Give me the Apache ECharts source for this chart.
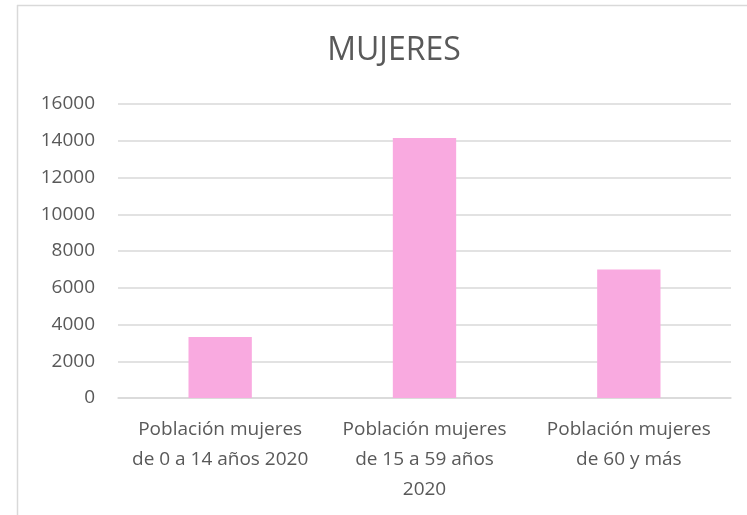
<!DOCTYPE html>
<html>
<head>
<meta charset="utf-8">
<script src="https://cdn.jsdelivr.net/npm/echarts@6/dist/echarts.min.js"></script>
<style>
html,body{margin:0;padding:0;background:#fff;}
#c{width:747px;height:515px;}
</style>
</head>
<body>
<div id="c"></div>
<script>
const title = "MUJERES";
const categories = [
  "Población mujeres\nde 0 a 14 años 2020",
  "Población mujeres\nde 15 a 59 años\n2020",
  "Población mujeres\nde 60 y más"
];
const values = [3320, 14150, 7000];
const yTicks = [0, 2000, 4000, 6000, 8000, 10000, 12000, 14000, 16000];

const chart = echarts.init(document.getElementById('c'), null, {renderer: 'canvas'});
const font = "Open Sans";
chart.setOption({
  animation: false,
  backgroundColor: '#fff',
  title: {
    text: title,
    left: 389, top: 30, textAlign: 'center',
    textStyle: {fontFamily: font, fontSize: 32, fontWeight: 'normal', color: '#595959'}
  },
  graphic: [
    {type: 'line', shape: {x1: 17.5, y1: 5, x2: 17.5, y2: 515}, style: {stroke: '#d9d9d9', lineWidth: 1.5}},
    {type: 'line', shape: {x1: 17, y1: 5.5, x2: 747, y2: 5.5}, style: {stroke: '#d9d9d9', lineWidth: 1.5}}
  ],
  grid: {left: 118, right: 16, top: 104, bottom: 117, containLabel: false},
  xAxis: {
    type: 'category',
    data: categories,
    axisLine: {show: true, lineStyle: {color: '#d9d9d9', width: 1.5}},
    axisTick: {show: false},
    axisLabel: {fontFamily: font, fontSize: 19, color: '#595959', lineHeight: 30, margin: 17, interval: 0}
  },
  yAxis: {
    type: 'value',
    min: yTicks[0], max: yTicks[yTicks.length - 1], interval: 2000,
    axisLine: {show: false},
    axisTick: {show: false},
    splitLine: {lineStyle: {color: '#d9d9d9', width: 1.5}},
    axisLabel: {fontFamily: font, fontSize: 19, color: '#595959', margin: 23, formatter: v => String(v)}
  },
  series: [{
    type: 'bar',
    data: values,
    barWidth: '31%',
    itemStyle: {color: '#f9aae0'}
  }]
});
</script>
</body>
</html>
